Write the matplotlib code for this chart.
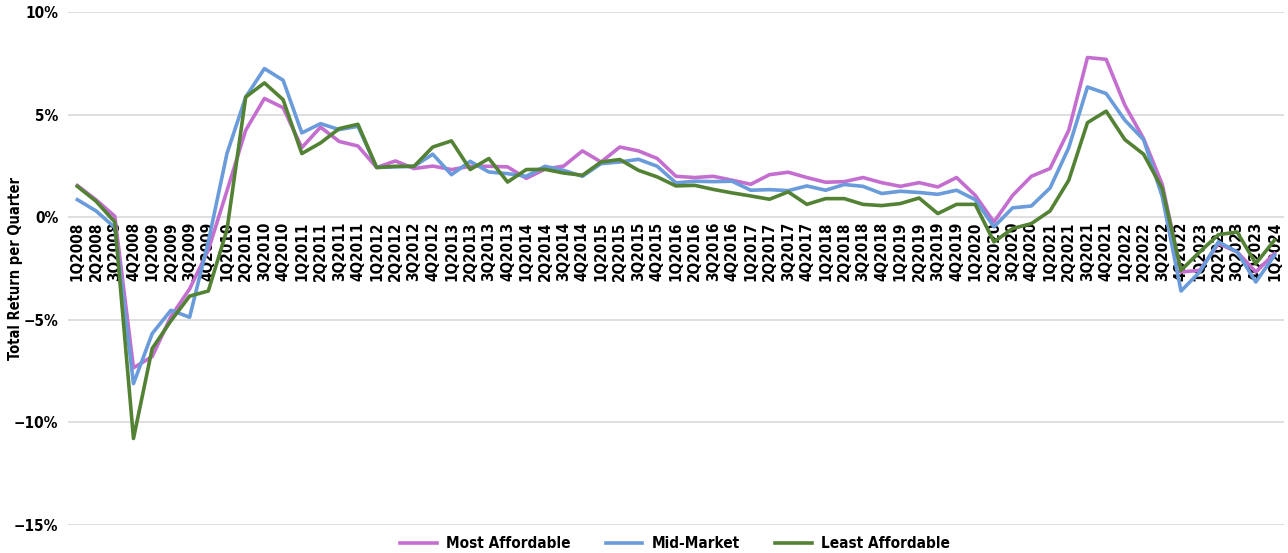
import matplotlib
matplotlib.use('Agg')
import matplotlib.pyplot as plt
from matplotlib import font_manager

# look for a bold condensed sans face; fall back to DejaVu Sans bold
cond = None
for f in font_manager.fontManager.ttflist:
    w = f.weight if isinstance(f.weight, int) else 700 if 'bold' in str(f.weight) else 400
    narrow = ('Narrow' in f.name or 'Condensed' in f.name or
              f.stretch in ('condensed', 'semi-condensed', 'extra-condensed'))
    if narrow and w >= 600 and 'Serif' not in f.name and 'Mono' not in f.name \
            and f.style == 'normal':
        cond = f.fname
        break

if cond:
    def fp(size):
        return font_manager.FontProperties(fname=cond, size=size)
    XT, YT, LG, YL = 11, 11, 11, 10.5
else:
    def fp(size):
        return font_manager.FontProperties(family='DejaVu Sans', weight='bold', size=size)
    XT, YT, LG, YL = 9.6, 10, 10, 9.5

quarters = [f'{q}Q{y}' for y in range(2008, 2025) for q in range(1, 5)][:65]

most_affordable = [
    1.55, 0.85, 0.05, -7.35, -6.8, -4.85, -3.5, -1.6, 1.3, 4.25, 5.8, 5.35,
    3.4, 4.4, 3.7, 3.48, 2.43, 2.75, 2.38, 2.5, 2.33, 2.49, 2.49, 2.46,
    1.9, 2.35, 2.5, 3.24, 2.7, 3.43, 3.24, 2.87, 2.0, 1.94, 2.0, 1.81,
    1.61, 2.08, 2.2, 1.94, 1.71, 1.74, 1.94, 1.69, 1.51, 1.69, 1.48, 1.94,
    1.07, -0.23, 1.07, 2.0, 2.38, 4.25, 7.8, 7.71, 5.47, 3.84, 1.6, -2.67,
    -2.59, -1.29, -1.69, -2.67, -1.77,
]
mid_market = [
    0.86, 0.31, -0.5, -8.12, -5.68, -4.54, -4.88, -1.2, 3.12, 5.87, 7.26, 6.69,
    4.12, 4.57, 4.28, 4.44, 2.43, 2.46, 2.49, 3.08, 2.08, 2.73, 2.21, 2.13,
    2.0, 2.49, 2.29, 2.0, 2.62, 2.70, 2.83, 2.49, 1.68, 1.76, 1.74, 1.76,
    1.32, 1.35, 1.30, 1.53, 1.32, 1.60, 1.51, 1.16, 1.27, 1.21, 1.12, 1.32,
    0.86, -0.47, 0.46, 0.55, 1.43, 3.40, 6.36, 6.04, 4.74, 3.79, 1.0, -3.6,
    -2.67, -1.2, -1.69, -3.16, -1.86,
]
least_affordable = [
    1.51, 0.78, -0.23, -10.8, -6.41, -5.06, -3.85, -3.6, -0.6, 5.87, 6.56, 5.74,
    3.11, 3.63, 4.33, 4.54, 2.43, 2.49, 2.49, 3.43, 3.73, 2.33, 2.87, 1.72,
    2.33, 2.34, 2.16, 2.05, 2.70, 2.82, 2.29, 1.97, 1.53, 1.56, 1.36, 1.19,
    1.04, 0.88, 1.24, 0.63, 0.91, 0.91, 0.63, 0.57, 0.67, 0.94, 0.18, 0.63,
    0.63, -1.2, -0.55, -0.31, 0.31, 1.81, 4.62, 5.18, 3.79, 3.08, 1.40, -2.59,
    -1.69, -0.85, -0.72, -2.26, -1.12,
]

series = [
    ('Most Affordable', most_affordable, '#C46FD0'),
    ('Mid-Market', mid_market, '#6A9BDA'),
    ('Least Affordable', least_affordable, '#548235'),
]
yticks = [-15, -10, -5, 0, 5, 10]
ytick_labels = ['\u221215%', '\u221210%', '\u22125%', '0%', '5%', '10%']

fig = plt.figure(figsize=(12.88, 5.53), dpi=100)
ax = fig.add_axes([0.0528, 0.0515, 0.944, 0.926])

# axis line at 0, set before the tick labels (set_position resets ticks)
ax.spines['bottom'].set_position(('data', 0))
for s in ax.spines.values():
    s.set_visible(False)

x = list(range(len(quarters)))
for name, vals, col in series:
    ax.plot(x, vals, color=col, lw=2.6, label=name)

ax.set_xlim(-0.5, len(quarters) - 0.5)
ax.set_ylim(-15, 10)
ax.set_yticks(yticks)
ax.set_yticklabels(ytick_labels, fontproperties=fp(YT))
ax.set_xticks(x)
ax.set_xticklabels(quarters, rotation=90, va='top', ha='center',
                   fontproperties=fp(XT))
ax.tick_params(axis='both', length=0)
ax.tick_params(axis='x', pad=3)
ax.tick_params(axis='y', pad=7)

ax.yaxis.grid(True, color='#D9D9D9', lw=1.2)
ax.set_axisbelow(True)

ax.set_ylabel('Total Return per Quarter', fontproperties=fp(YL))
ax.yaxis.set_label_coords(-0.037, 0.5)

fig.legend(loc='center', bbox_to_anchor=(0.524, 0.017), ncol=3, frameon=False,
           prop=fp(LG), handlelength=2.4, columnspacing=2.3,
           handletextpad=0.6)

fig.savefig('out.png', dpi=100)
